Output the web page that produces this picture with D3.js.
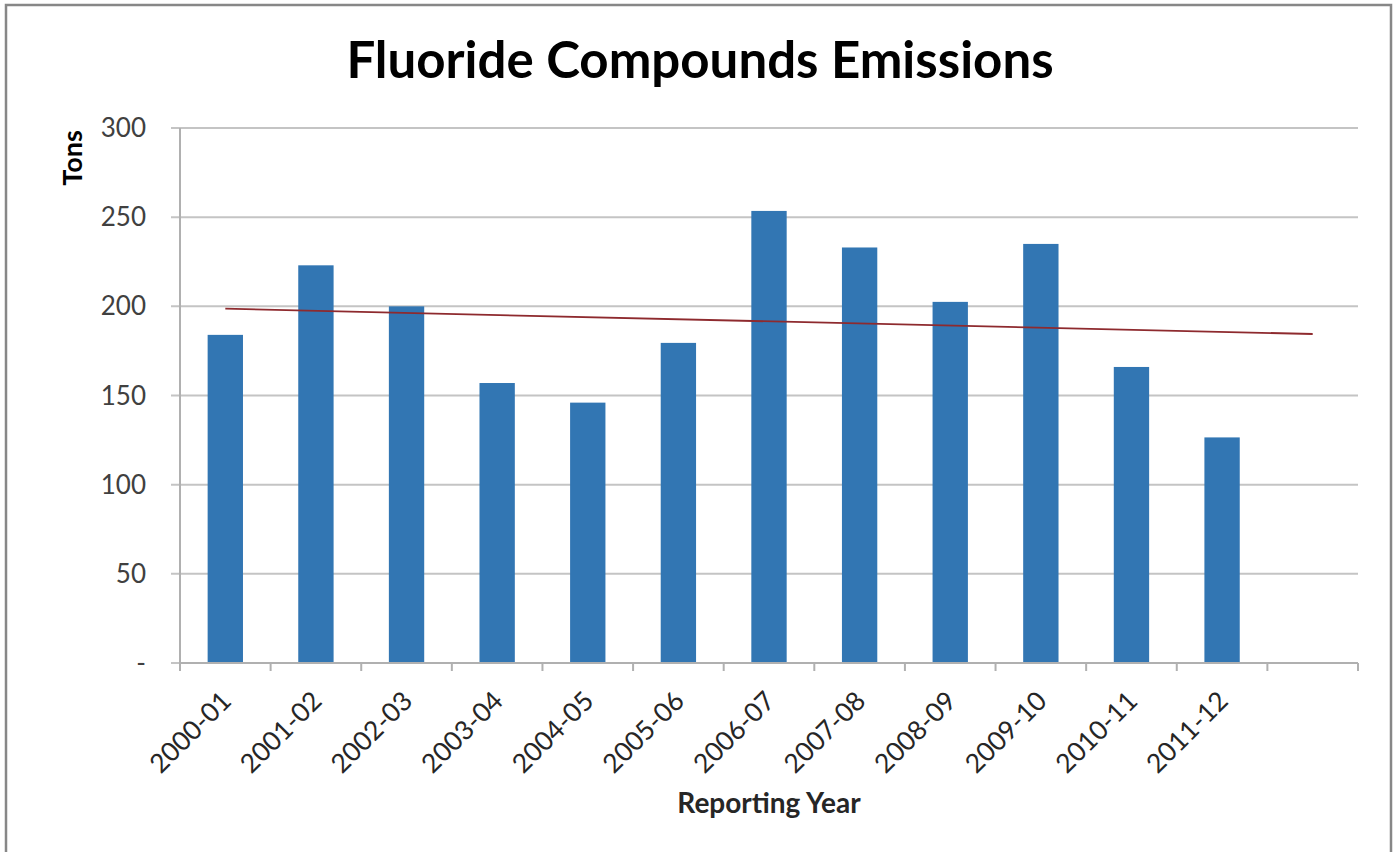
<!DOCTYPE html>
<html>
<head>
<meta charset="utf-8">
<script src="https://cdn.jsdelivr.net/npm/d3@7"></script>
<style>
  html, body { margin: 0; padding: 0; background: #ffffff; }
  svg { display: block; }
  text { font-family: Lato, "Open Sans", sans-serif; }
</style>
</head>
<body>
<svg id="chart" width="1399" height="852"></svg>
<script>
// Reporting years and fluoride compound emissions (tons)
const years = ["2000-01", "2001-02", "2002-03", "2003-04", "2004-05", "2005-06",
               "2006-07", "2007-08", "2008-09", "2009-10", "2010-11", "2011-12"];
const emissions = [184, 223, 200, 157, 146, 179.5, 253.5, 233, 202.5, 235, 166, 126.5];
const yTicks = [0, 50, 100, 150, 200, 250, 300];

const W = 1399, H = 852;
const margin = { left: 180, right: 41, top: 128, bottom: 189 };
const svg = d3.select("#chart");

// outer frame
svg.append("rect")
  .attr("x", 6).attr("y", 5).attr("width", 1385).attr("height", 860)
  .attr("fill", "#ffffff").attr("stroke", "#878787").attr("stroke-width", 2.5);

// one extra slot after the last year holds the forward trend period
const slots = years.concat([""]);
const x = d3.scaleBand().domain(slots.map((d, i) => i))
  .range([margin.left, W - margin.right]);
const y = d3.scaleLinear().domain([0, 300]).range([H - margin.bottom, margin.top]);

const plotL = margin.left, plotR = W - margin.right;
const plotB = H - margin.bottom;

// horizontal gridlines (with left-hand tick stubs)
svg.append("g").selectAll("line").data(yTicks).join("line")
  .attr("x1", plotL - 9).attr("x2", plotR)
  .attr("y1", d => y(d)).attr("y2", d => y(d))
  .attr("stroke", "#c4c4c4").attr("stroke-width", 2);

// value axis labels
svg.append("g").selectAll("text").data(yTicks).join("text")
  .attr("x", plotL - 34).attr("y", d => y(d))
  .attr("dy", "0.35em")
  .attr("text-anchor", "end")
  .attr("font-size", 26)
  .attr("fill", "#404040")
  .text(d => d === 0 ? "-" : d);

// vertical axis line
svg.append("line")
  .attr("x1", plotL).attr("x2", plotL)
  .attr("y1", y(300)).attr("y2", plotB)
  .attr("stroke", "#b0b0b0").attr("stroke-width", 2);

// category tick marks at slot boundaries
const bounds = slots.map((d, i) => x(i)).concat([x(slots.length - 1) + x.bandwidth()]);
svg.append("g").selectAll("line").data(bounds).join("line")
  .attr("x1", d => d).attr("x2", d => d)
  .attr("y1", plotB).attr("y2", plotB + 8)
  .attr("stroke", "#b0b0b0").attr("stroke-width", 2);

// bars
const barW = x.bandwidth() * 0.39;
svg.append("g").selectAll("rect").data(emissions).join("rect")
  .attr("x", (d, i) => x(i) + (x.bandwidth() - barW) / 2)
  .attr("y", d => y(d))
  .attr("width", barW)
  .attr("height", d => plotB - y(d))
  .attr("fill", "#3276b3");

// category axis baseline
svg.append("line")
  .attr("x1", plotL).attr("x2", plotR)
  .attr("y1", plotB).attr("y2", plotB)
  .attr("stroke", "#b0b0b0").attr("stroke-width", 2);

// linear least-squares trend, extended one period forward
const n = emissions.length;
const xs = d3.range(1, n + 1);
const mx = d3.mean(xs), my = d3.mean(emissions);
const slope = d3.sum(xs, (v, i) => (v - mx) * (emissions[i] - my)) / d3.sum(xs, v => (v - mx) ** 2);
const icpt = my - slope * mx;
const trend = [1, n + 1].map(k => [x(k - 1) + x.bandwidth() / 2, y(icpt + slope * k)]);
svg.append("path")
  .attr("d", d3.line()(trend))
  .attr("fill", "none")
  .attr("stroke", "#8e2a2e")
  .attr("stroke-width", 1.8);

// category labels, rotated
svg.append("g").selectAll("text").data(years).join("text")
  .attr("transform", (d, i) => `translate(${x(i) + x.bandwidth() / 2 + 1},${plotB + 33}) rotate(-45)`)
  .attr("text-anchor", "end")
  .attr("dy", "0.35em")
  .attr("font-size", 26.5)
  .attr("fill", "#262626")
  .text(d => d);

// title
svg.append("text")
  .attr("x", 700).attr("y", 78)
  .attr("text-anchor", "middle")
  .attr("font-size", 51)
  .attr("font-weight", "bold")
  .attr("fill", "#000000")
  .text("Fluoride Compounds Emissions");

// axis titles
svg.append("text")
  .attr("x", (plotL + plotR) / 2).attr("y", 813)
  .attr("text-anchor", "middle")
  .attr("font-size", 28)
  .attr("font-weight", "bold")
  .attr("fill", "#262626")
  .text("Reporting Year");

svg.append("text")
  .attr("transform", "translate(82,158) rotate(-90)")
  .attr("text-anchor", "middle")
  .attr("font-size", 27)
  .attr("font-weight", "bold")
  .attr("fill", "#000000")
  .text("Tons");
</script>
</body>
</html>
